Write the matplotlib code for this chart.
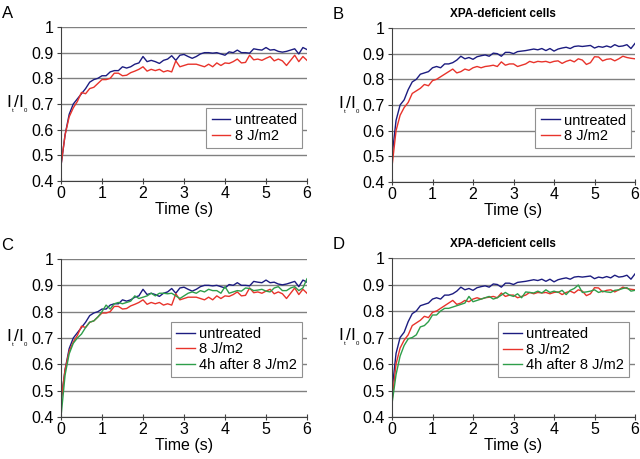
import numpy as np
import matplotlib
matplotlib.use('Agg')
import matplotlib.pyplot as plt

plt.rcParams['font.family'] = ['Liberation Sans', 'DejaVu Sans']
plt.rcParams['mathtext.fontset'] = 'custom'
plt.rcParams['mathtext.rm'] = 'Liberation Sans'

time = np.round(np.arange(0, 61) * 0.1, 1)

# panel A / C (normal cells)
a_untreated = [0.46, 0.58, 0.66, 0.70, 0.72, 0.74, 0.76, 0.785, 0.795, 0.80,
               0.81, 0.81, 0.825, 0.83, 0.83, 0.845, 0.84, 0.845, 0.855, 0.86,
               0.885, 0.865, 0.87, 0.865, 0.858, 0.87, 0.875, 0.888, 0.87, 0.89,
               0.893, 0.885, 0.878, 0.885, 0.895, 0.90, 0.90, 0.898, 0.90, 0.895,
               0.89, 0.903, 0.90, 0.91, 0.90, 0.90, 0.898, 0.915, 0.912, 0.91,
               0.92, 0.91, 0.912, 0.905, 0.902, 0.905, 0.91, 0.915, 0.895, 0.92,
               0.912]
a_uv = [0.46, 0.58, 0.65, 0.685, 0.71, 0.745, 0.74, 0.76, 0.765, 0.78,
        0.795, 0.795, 0.80, 0.82, 0.82, 0.81, 0.812, 0.822, 0.828, 0.835,
        0.845, 0.828, 0.835, 0.83, 0.835, 0.825, 0.83, 0.825, 0.868, 0.845,
        0.85, 0.855, 0.855, 0.855, 0.85, 0.845, 0.855, 0.845, 0.86, 0.85,
        0.86, 0.858, 0.865, 0.875, 0.86, 0.862, 0.89, 0.872, 0.875, 0.87,
        0.878, 0.885, 0.868, 0.875, 0.868, 0.85, 0.87, 0.89, 0.865, 0.885,
        0.87]
c_4h = [0.40, 0.56, 0.64, 0.68, 0.70, 0.715, 0.74, 0.76, 0.765, 0.78,
        0.80, 0.825, 0.81, 0.83, 0.835, 0.83, 0.835, 0.84, 0.86, 0.85,
        0.855, 0.86, 0.87, 0.86, 0.87, 0.87, 0.868, 0.87, 0.86, 0.85,
        0.86, 0.87, 0.875, 0.87, 0.88, 0.875, 0.885, 0.88, 0.88, 0.87,
        0.895, 0.87, 0.875, 0.88, 0.878, 0.89, 0.888, 0.88, 0.882, 0.885,
        0.878, 0.875, 0.89, 0.895, 0.88, 0.88, 0.89, 0.895, 0.88, 0.89,
        0.925]

# panel B / D (XPA-deficient cells)
b_untreated = [0.50, 0.64, 0.70, 0.72, 0.76, 0.79, 0.80, 0.82, 0.825, 0.83,
               0.845, 0.85, 0.845, 0.86, 0.86, 0.865, 0.875, 0.89, 0.88, 0.885,
               0.878, 0.888, 0.892, 0.895, 0.89, 0.902, 0.90, 0.89, 0.905, 0.905,
               0.90, 0.908, 0.91, 0.912, 0.915, 0.918, 0.915, 0.92, 0.912, 0.92,
               0.91, 0.918, 0.922, 0.925, 0.92, 0.928, 0.93, 0.928, 0.93, 0.932,
               0.922, 0.928, 0.925, 0.93, 0.925, 0.935, 0.928, 0.93, 0.935, 0.92,
               0.94]
b_uv = [0.46, 0.60, 0.66, 0.69, 0.71, 0.745, 0.755, 0.765, 0.78, 0.775,
        0.795, 0.80, 0.81, 0.82, 0.83, 0.84, 0.825, 0.83, 0.84, 0.835,
        0.845, 0.85, 0.845, 0.85, 0.852, 0.855, 0.85, 0.868, 0.855, 0.86,
        0.86, 0.85, 0.855, 0.86, 0.87, 0.865, 0.87, 0.868, 0.87, 0.865,
        0.87, 0.872, 0.862, 0.87, 0.875, 0.868, 0.88, 0.875, 0.858, 0.865,
        0.888, 0.887, 0.872, 0.878, 0.88, 0.872, 0.88, 0.89, 0.885, 0.882,
        0.88]
d_4h = [0.45, 0.56, 0.63, 0.67, 0.695, 0.70, 0.71, 0.74, 0.745, 0.76,
        0.785, 0.785, 0.80, 0.81, 0.81, 0.815, 0.82, 0.825, 0.83, 0.855,
        0.835, 0.84, 0.845, 0.85, 0.855, 0.845, 0.85, 0.86, 0.87, 0.86,
        0.855, 0.865, 0.85, 0.872, 0.87, 0.868, 0.875, 0.868, 0.88, 0.87,
        0.875, 0.87, 0.878, 0.862, 0.878, 0.885, 0.898, 0.87, 0.872, 0.875,
        0.88, 0.87, 0.875, 0.872, 0.87, 0.878, 0.88, 0.885, 0.888, 0.875,
        0.878]

labels = ['untreated', '8 J/m2', '4h after 8 J/m2']
colors = ['#1c1c80', '#e8332b', '#2e9e4a']

panels = [
    ('A', '', [0.0953, 0.6057, 0.3844, 0.3355], [a_untreated, a_uv], (0.98, 0.214)),
    ('B', 'XPA-deficient cells', [0.6125, 0.6035, 0.3797, 0.3355], [b_untreated, b_uv], (0.984, 0.22)),
    ('C', '', [0.0953, 0.0915, 0.3844, 0.3442], [a_untreated, a_uv, c_4h], (0.98, 0.253)),
    ('D', 'XPA-deficient cells', [0.6125, 0.0915, 0.3797, 0.3464], [b_untreated, b_uv, d_4h], (0.975, 0.25)),
]

fig = plt.figure(figsize=(6.4, 4.59), dpi=100)

for letter, title, rect, series, legpos in panels:
    ax = fig.add_axes(rect)
    for i, s in enumerate(series):
        ax.plot(time, s, color=colors[i], lw=1.0, label=labels[i])
    ax.set_xlim(0, 6)
    ax.set_ylim(0.4, 1.0)
    ax.set_xticks(range(0, 7))
    ax.set_yticks(np.round(np.arange(0.4, 1.01, 0.1), 1))
    ax.set_yticklabels(['0.4', '0.5', '0.6', '0.7', '0.8', '0.9', '1'])
    ax.yaxis.grid(True, color='#808080', lw=1.0)
    ax.set_axisbelow(True)
    for side in ['top', 'right']:
        ax.spines[side].set_visible(False)
    ax.spines['left'].set_color('#404040')
    ax.spines['bottom'].set_color('#404040')
    ax.tick_params(labelsize=11.5, length=3, color='#404040', pad=2)
    ax.tick_params(axis='x', direction='inout', length=5, pad=1)
    ax.set_xlabel('Time (s)', fontsize=11.5, labelpad=0.5)
    ax.set_ylabel(r'$\mathregular{I_{_{_t}}/I_{_{_0}}}$', fontsize=12.5, rotation=0,
                  va='center', ha='center')
    ax.yaxis.set_label_coords(-0.175, 0.5)
    leg = ax.legend(loc='lower right', bbox_to_anchor=legpos, fontsize=10.5, frameon=True,
                    fancybox=False, edgecolor='#909090', framealpha=1, handlelength=1.3,
                    handletextpad=0.3, borderpad=0.35, labelspacing=0.1, borderaxespad=0)
    leg.get_frame().set_linewidth(0.8)
    bb = ax.get_position()
    fig.text(bb.x0 - 0.093, bb.y1 + 0.03, letter, fontsize=12, va='center', ha='left')
    if title:
        fig.text(bb.x0 + bb.width * 0.455, bb.y1 + 0.03, title, fontsize=8.5,
                 fontweight='bold', ha='center', va='center')

fig.savefig('out.png', dpi=100)
